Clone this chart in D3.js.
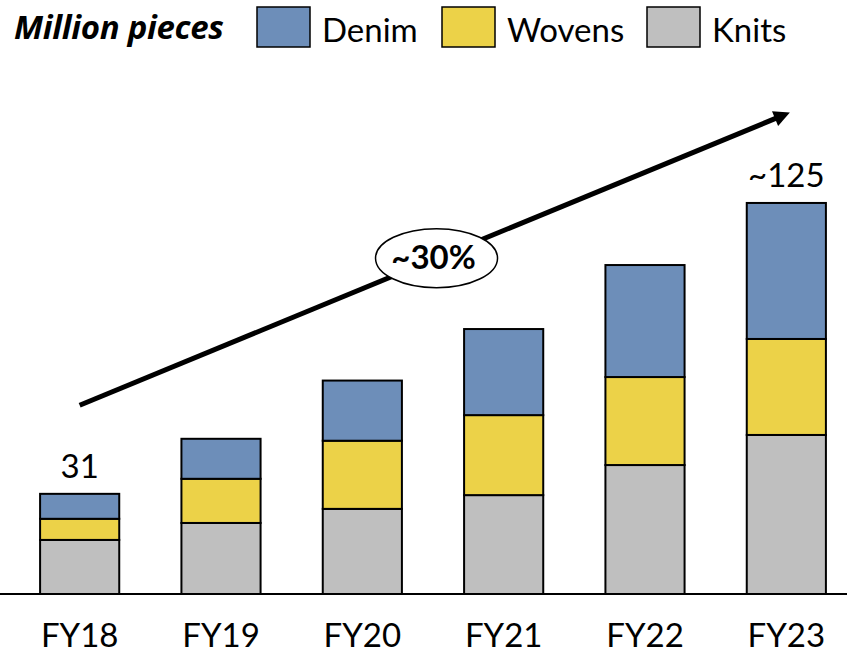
<!DOCTYPE html>
<html>
<head>
<meta charset="utf-8">
<script src="https://cdn.jsdelivr.net/npm/d3@7"></script>
<style>
  html, body { margin: 0; padding: 0; background: #fff; }
  svg { display: block; }
  text { font-family: Lato, "Open Sans", sans-serif; fill: #000; }
</style>
</head>
<body>
<svg id="chart" width="847" height="654"></svg>
<script>
// ---- data (million pieces) ----
const categories = ["FY18", "FY19", "FY20", "FY21", "FY22", "FY23"];
const knits  = [16.9, 22.2, 26.6, 30.9, 40.3, 49.7];
const wovens = [ 6.6, 13.8, 21.3, 25.0, 27.5, 30.0];
const denim  = [ 7.8, 12.5, 18.8, 26.9, 35.0, 42.5];
const totalLabels = ["31", "", "", "", "", "~125"];
const seriesNames = ["Denim", "Wovens", "Knits"];
const unitLabel = "Million pieces";
const cagrLabel = "~30%";
const cagrFrom = ["FY18", 59];
const cagrTo = ["FY23", 150];

const colors = { Knits: "#bfbfbf", Wovens: "#ecd248", Denim: "#6d8eb9" };

const rows = categories.map((c, i) => ({ cat: c, Knits: knits[i], Wovens: wovens[i], Denim: denim[i] }));
const stack = d3.stack().keys(["Knits", "Wovens", "Denim"]);
const layers = stack(rows);

const svg = d3.select("#chart");
const W = 847, H = 654;
const baseY = 594;
const FS = 33;

const x = d3.scaleBand().domain(categories).range([9, 857]).paddingInner(0.44).paddingOuter(0.22);
const y = d3.scaleLinear().domain([0, 150]).range([baseY, baseY - 480]);

// bars
svg.append("g").selectAll("g").data(layers).join("g")
  .attr("fill", d => colors[d.key])
  .selectAll("rect").data(d => d).join("rect")
  .attr("x", d => x(d.data.cat))
  .attr("width", x.bandwidth())
  .attr("y", d => y(d[1]))
  .attr("height", d => y(d[0]) - y(d[1]))
  .attr("stroke", "#000")
  .attr("stroke-width", 2);

// baseline axis
const xAxis = d3.axisBottom(x).tickSize(0).tickPadding(0);
const ax = svg.append("g").attr("transform", `translate(0,${baseY})`).call(xAxis);
ax.select(".domain").remove();
ax.selectAll("text").attr("y", 53).attr("dy", 0)
  .style("font-family", "Lato, 'Open Sans', sans-serif")
  .style("font-size", FS + "px").attr("fill", "#000");
svg.append("line").attr("x1", 0).attr("x2", W).attr("y1", baseY).attr("y2", baseY)
  .attr("stroke", "#000").attr("stroke-width", 2);

// total labels
svg.append("g").selectAll("text").data(rows).join("text")
  .attr("x", d => x(d.cat) + x.bandwidth() / 2)
  .attr("y", d => y(d.Knits + d.Wovens + d.Denim) - 16)
  .attr("text-anchor", "middle")
  .style("font-size", FS + "px")
  .text((d, i) => totalLabels[i]);

// CAGR arrow
const defs = svg.append("defs");
defs.append("marker").attr("id", "ah").attr("viewBox", "0 0 10 10")
  .attr("refX", 2).attr("refY", 5).attr("markerWidth", 3.6).attr("markerHeight", 3.2)
  .attr("orient", "auto")
  .append("path").attr("d", "M0,0 L10,5 L0,10 z").attr("fill", "#000");

const x0 = x(cagrFrom[0]) + x.bandwidth() / 2, y0 = y(cagrFrom[1]);
const x1 = x(cagrTo[0]) + x.bandwidth() / 2, y1 = y(cagrTo[1]);
const ang = Math.atan2(y1 - y0, x1 - x0);
const shorten = 9;
svg.append("line")
  .attr("x1", x0).attr("y1", y0)
  .attr("x2", x1 - shorten * Math.cos(ang)).attr("y2", y1 - shorten * Math.sin(ang))
  .attr("stroke", "#000").attr("stroke-width", 5)
  .attr("marker-end", "url(#ah)");

// CAGR bubble
const mx = x0 + (x1 - x0) * 0.505, my = y0 + (y1 - y0) * 0.505;
svg.append("ellipse").attr("cx", mx).attr("cy", my).attr("rx", 61).attr("ry", 29.5)
  .attr("fill", "#fff").attr("stroke", "#000").attr("stroke-width", 1.5);
svg.append("text").attr("x", mx - 3).attr("y", my + 11)
  .attr("text-anchor", "middle").style("font-size", FS + "px").style("font-weight", "bold")
  .text(cagrLabel);

// legend
svg.append("text").attr("x", 14).attr("y", 39)
  .style("font-family", "'Open Sans', Lato, sans-serif")
  .style("font-size", "33px").style("font-weight", "bold").style("font-style", "italic")
  .style("letter-spacing", "-0.3px")
  .text(unitLabel);
const legendX = { Denim: 257, Wovens: 442, Knits: 647 };
const lg = svg.append("g").selectAll("g").data(seriesNames).join("g")
  .attr("transform", d => `translate(${legendX[d]},7)`);
lg.append("rect").attr("width", 53).attr("height", 40)
  .attr("fill", d => colors[d]).attr("stroke", "#000").attr("stroke-width", 1.5);
lg.append("text").attr("x", 65).attr("y", 35).style("font-size", FS + "px").text(d => d);
</script>
</body>
</html>
